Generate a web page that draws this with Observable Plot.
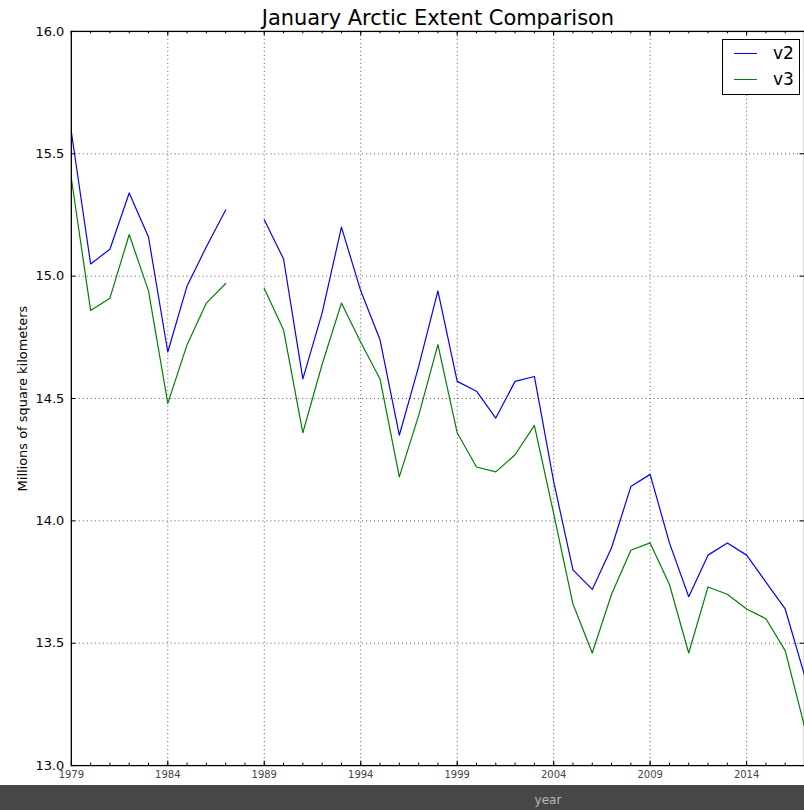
<!DOCTYPE html>
<html>
<head>
<meta charset="utf-8">
<script src="https://cdn.jsdelivr.net/npm/d3@7"></script>
<script src="https://cdn.jsdelivr.net/npm/@observablehq/plot@0.6"></script>
<style>
  html, body { margin: 0; padding: 0; background: #fff; overflow: hidden; }
  #wrap { position: relative; width: 804px; height: 810px; overflow: hidden; font-family: "DejaVu Sans", sans-serif; }
  #legend { position: absolute; left: 722px; top: 39px; width: 76px; height: 54px; border: 1px solid #000; background: #fff; }
  .lg-line { position: absolute; left: 11px; width: 23px; height: 0; border-top: 1px solid; }
  .lg-text { position: absolute; left: 50px; font-size: 17px; line-height: 17px; color: #000; }
  #band { position: absolute; left: 0; top: 785px; width: 804px; height: 25px; background: #474747; }
  #band span { position: absolute; left: 548px; top: 8px; transform: translateX(-50%); font-size: 12px; color: #b8b8b8; }
</style>
</head>
<body>
<div id="wrap"></div>
<script>
const title = "January Arctic Extent Comparison";
const yLabel = "Millions of square kilometers";
const xLabel = "year";

const years = [1979, 1980, 1981, 1982, 1983, 1984, 1985, 1986, 1987, 1988,
  1989, 1990, 1991, 1992, 1993, 1994, 1995, 1996, 1997, 1998,
  1999, 2000, 2001, 2002, 2003, 2004, 2005, 2006, 2007, 2008,
  2009, 2010, 2011, 2012, 2013, 2014, 2015, 2016, 2017];

const v2 = [15.59, 15.05, 15.11, 15.34, 15.16, 14.69, 14.96, 15.12, 15.27, null,
  15.23, 15.07, 14.58, 14.85, 15.20, 14.94, 14.74, 14.35, 14.63, 14.94,
  14.57, 14.53, 14.42, 14.57, 14.59, 14.16, 13.80, 13.72, 13.89, 14.14,
  14.19, 13.91, 13.69, 13.86, 13.91, 13.86, 13.75, 13.64, 13.37];

const v3 = [15.40, 14.86, 14.91, 15.17, 14.94, 14.48, 14.72, 14.89, 14.97, null,
  14.95, 14.78, 14.36, 14.64, 14.89, 14.73, 14.58, 14.18, 14.43, 14.72,
  14.36, 14.22, 14.20, 14.27, 14.39, 14.03, 13.66, 13.46, 13.70, 13.88,
  13.91, 13.74, 13.46, 13.73, 13.70, 13.64, 13.60, 13.47, 13.16];

const seriesNames = ["v2", "v3"];
const seriesColors = ["#0000ff", "#008000"];

const xMajorTicks = [1979, 1984, 1989, 1994, 1999, 2004, 2009, 2014];
const yTicks = [13.0, 13.5, 14.0, 14.5, 15.0, 15.5, 16.0];

const xDomain = [1979, 2017];
const yDomain = [13, 16];

const rows = [];
years.forEach((yr, i) => {
  rows.push({year: yr, value: v2[i], series: "v2"});
  rows.push({year: yr, value: v3[i], series: "v3"});
});

const W = 806, H = 785, mL = 71, mR = 0, mT = 31, mB = 18;
const pxPerY = (H - mT - mB) / (yDomain[1] - yDomain[0]);
const pxPerX = (W - mL - mR) / (xDomain[1] - xDomain[0]);
const minorLen = 2.5, majorLen = 4.5;

const chart = Plot.plot({
  width: W,
  height: H,
  marginLeft: mL,
  marginRight: mR,
  marginTop: mT,
  marginBottom: mB,
  style: {fontFamily: "DejaVu Sans, sans-serif", background: "transparent", overflow: "visible"},
  x: {domain: xDomain},
  y: {domain: yDomain},
  color: {domain: seriesNames, range: seriesColors},
  marks: [
    Plot.gridX(xMajorTicks.slice(1), {stroke: "#555", strokeOpacity: 1, strokeWidth: 1, strokeDasharray: "1,3"}),
    Plot.gridY(yTicks.slice(1, -1), {stroke: "#555", strokeOpacity: 1, strokeWidth: 1, strokeDasharray: "1,3"}),
    Plot.line(rows, {x: "year", y: "value", z: "series", stroke: "series", strokeWidth: 1.2}),
    // inward ticks
    Plot.ruleX(years, {y1: yDomain[0], y2: yDomain[0] + minorLen / pxPerY, stroke: "#000"}),
    Plot.ruleX(years, {y1: yDomain[1], y2: yDomain[1] - minorLen / pxPerY, stroke: "#000"}),
    Plot.ruleX(xMajorTicks, {y1: yDomain[0], y2: yDomain[0] + majorLen / pxPerY, stroke: "#000"}),
    Plot.ruleX(xMajorTicks, {y1: yDomain[1], y2: yDomain[1] - majorLen / pxPerY, stroke: "#000"}),
    Plot.ruleY(yTicks, {x1: xDomain[0], x2: xDomain[0] + majorLen / pxPerX, stroke: "#000"}),
    Plot.ruleY(yTicks, {x1: xDomain[1], x2: xDomain[1] - majorLen / pxPerX, stroke: "#000"}),
    Plot.frame({stroke: "#000", strokeWidth: 1.3}),
    Plot.axisY(yTicks, {anchor: "left", tickSize: 0, tickPadding: 7, tickFormat: d3.format(".1f"), fontSize: 13, fill: "#000", label: null}),
    Plot.axisX(xMajorTicks, {anchor: "bottom", tickSize: 0, tickPadding: 5, tickFormat: d => String(d), fontSize: 10, fill: "#444", label: null}),
    Plot.text([title], {frameAnchor: "top", lineAnchor: "bottom", dy: -6, fontSize: 21, fill: "#000"}),
    Plot.text([yLabel], {frameAnchor: "left", textAnchor: "middle", rotate: -90, dx: -49, fontSize: 13, fill: "#000"})
  ]
});

const wrap = document.getElementById("wrap");
wrap.appendChild(chart);

const legend = document.createElement("div");
legend.id = "legend";
seriesNames.forEach((name, i) => {
  const ln = document.createElement("div");
  ln.className = "lg-line";
  ln.style.top = (13 + i * 26) + "px";
  ln.style.borderTopColor = seriesColors[i];
  legend.appendChild(ln);
  const tx = document.createElement("div");
  tx.className = "lg-text";
  tx.style.top = (5 + i * 26) + "px";
  tx.textContent = name;
  legend.appendChild(tx);
});
wrap.appendChild(legend);

const band = document.createElement("div");
band.id = "band";
const bl = document.createElement("span");
bl.textContent = xLabel;
band.appendChild(bl);
wrap.appendChild(band);
</script>
</body>
</html>
